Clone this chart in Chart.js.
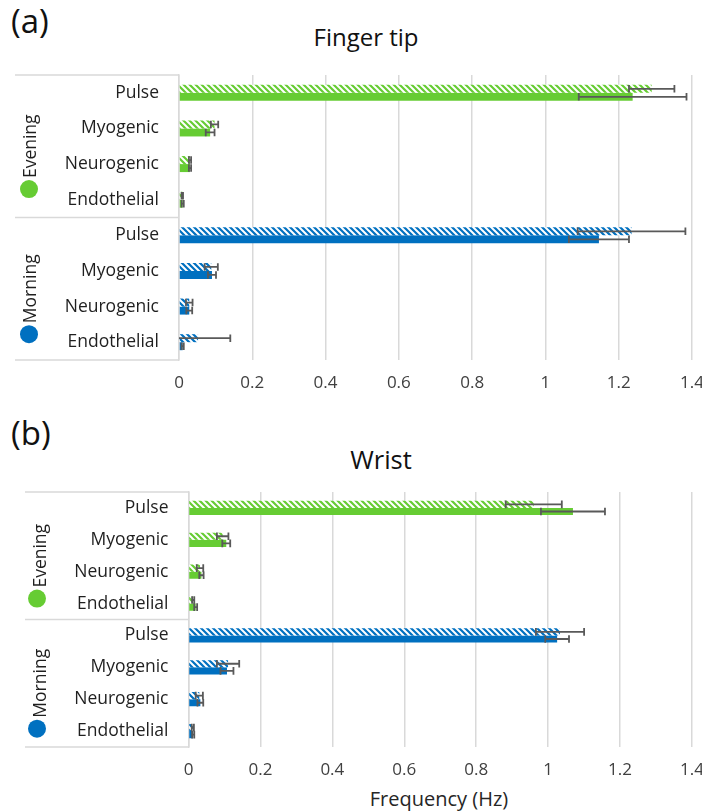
<!DOCTYPE html>
<html><head><meta charset="utf-8">
<script src="https://cdn.jsdelivr.net/npm/chart.js@4.4.1/dist/chart.umd.min.js"></script>
<style>
body{margin:0;background:#fff;width:702px;height:812px;overflow:hidden;position:relative;font-family:'Open Sans',sans-serif;}
.lbl{position:absolute;color:#111;white-space:nowrap;line-height:1;}
canvas{position:absolute;left:0;}
</style></head><body>
<div class="lbl" style="left:11px;top:4px;font-size:33px;">(a)</div>
<div class="lbl" style="left:366px;top:25px;font-size:24px;transform:translateX(-50%);">Finger tip</div>
<div class="lbl" style="left:11px;top:416px;font-size:33px;">(b)</div>
<div class="lbl" style="left:381px;top:447px;font-size:25.5px;transform:translateX(-50%);">Wrist</div>
<div class="lbl" style="left:439px;top:789px;font-size:20px;transform:translateX(-50%);color:#262626;">Frequency (Hz)</div>
<canvas id="c1" width="702" height="400" style="top:0px"></canvas>
<canvas id="c2" width="702" height="412" style="top:400px"></canvas>
<script>
// ---- data ----
const categories = ['Pulse','Myogenic','Neurogenic','Endothelial','Pulse','Myogenic','Neurogenic','Endothelial'];
const groups = ['Evening','Morning'];
const xTickLabels = ['0','0.2','0.4','0.6','0.8','1','1.2','1.4'];

const fingerHatched    = [1.29, 0.097, 0.03, 0.009, 1.235, 0.088, 0.028, 0.052];
const fingerHatchedErr = [0.062, 0.01, 0.003, 0.002, 0.147, 0.018, 0.009, 0.088];
const fingerSolid      = [1.238, 0.085, 0.03, 0.01, 1.146, 0.09, 0.028, 0.01];
const fingerSolidErr   = [0.147, 0.012, 0.003, 0.003, 0.082, 0.011, 0.008, 0.003];

const wristHatched     = [0.96, 0.095, 0.032, 0.013, 1.033, 0.11, 0.03, 0.012];
const wristHatchedErr  = [0.078, 0.016, 0.009, 0.003, 0.067, 0.031, 0.01, 0.003];
const wristSolid       = [1.069, 0.105, 0.036, 0.02, 1.025, 0.107, 0.033, 0.013];
const wristSolidErr    = [0.089, 0.011, 0.006, 0.004, 0.033, 0.018, 0.008, 0.003];

// ---- styles ----
const GREEN = '#66cc33', BLUE = '#0070c0';
const groupColors = [GREEN, BLUE];
function hatch(color){
  const c=document.createElement('canvas'); c.width=6; c.height=6;
  const g=c.getContext('2d');
  g.fillStyle=color; g.fillRect(0,0,6,6);
  g.strokeStyle='#fff'; g.lineWidth=2;
  g.beginPath();
  g.moveTo(-1,-1); g.lineTo(7,7);
  g.moveTo(-1,5); g.lineTo(1,7);
  g.moveTo(5,-1); g.lineTo(7,1);
  g.stroke();
  return document.getElementById('c1').getContext('2d').createPattern(c,'repeat');
}
const hatchColors = categories.map((c,i)=> hatch(i<4?GREEN:BLUE));
const solidColors = categories.map((c,i)=> i<4?GREEN:BLUE);

const errorBars = {
  id:'errorBars',
  afterDatasetsDraw(chart){
    const ctx=chart.ctx, xs=chart.scales.x;
    chart.data.datasets.forEach((ds,di)=>{
      const meta=chart.getDatasetMeta(di);
      meta.data.forEach((bar,i)=>{
        const v=ds.data[i], e=ds.errors[i];
        const lo=v-e, hi=v+e, y=bar.y;
        const xl=xs.getPixelForValue(Math.max(lo,0)), xh=xs.getPixelForValue(hi);
        ctx.save(); ctx.strokeStyle='#595959'; ctx.lineWidth=1.8;
        ctx.beginPath(); ctx.moveTo(xl,y); ctx.lineTo(xh,y);
        const c=3.8;
        if(lo>=0){ctx.moveTo(xl,y-c);ctx.lineTo(xl,y+c);}
        ctx.moveTo(xh,y-c);ctx.lineTo(xh,y+c);
        ctx.stroke(); ctx.restore();
      });
    });
  }
};

const groupBox = {
  id:'groupBox',
  afterDraw(chart, args, o){
    const ctx=chart.ctx, a=chart.chartArea;
    const step=(a.bottom-a.top)/categories.length;
    ctx.save();
    ctx.strokeStyle='#d9d9d9'; ctx.lineWidth=1.5;
    [a.top, a.top+4*step, a.bottom].forEach(yy=>{ctx.beginPath();ctx.moveTo(o.boxLeft,yy);ctx.lineTo(a.left,yy);ctx.stroke();});
    groups.forEach((g,gi)=>{
      const y0=a.top+gi*4*step, cy=y0+2*step;
      ctx.save(); ctx.translate(o.textX, cy); ctx.rotate(-Math.PI/2);
      ctx.font='17.5px "Open Sans"'; ctx.textAlign='center'; ctx.textBaseline='middle'; ctx.fillStyle='#1f1f1f';
      ctx.fillText(g,0,0);
      const w=ctx.measureText(g).width;
      ctx.restore();
      ctx.fillStyle=groupColors[gi];
      ctx.beginPath(); ctx.arc(o.circleX, cy+w/2+11, 9, 0, 2*Math.PI); ctx.fill();
    });
    ctx.restore();
  }
};

function makeChart(id, hv, he, sv, se, L){
  return new Chart(document.getElementById(id), {
    type:'bar',
    data:{
      labels:categories,
      datasets:[
        {data:hv, errors:he, backgroundColor:hatchColors, borderWidth:0, categoryPercentage:0.45, barPercentage:1},
        {data:sv, errors:se, backgroundColor:solidColors, borderWidth:0, categoryPercentage:0.45, barPercentage:1}
      ]
    },
    options:{
      indexAxis:'y', responsive:false, animation:false,
      layout:{padding:{left:0,right:10,top:L.top,bottom:0}},
      plugins:{legend:{display:false}, tooltip:{enabled:false}, groupBox:L},
      scales:{
        x:{min:0,max:1.4,
           ticks:{stepSize:0.2, padding:L.tickPad, color:'#404040', font:{family:'Open Sans',size:17},
                  callback:(v,i)=>xTickLabels[i]},
           grid:{color:'#d9d9d9', lineWidth:1.5, drawTicks:false},
           border:{display:false},
           afterFit(s){s.height=L.xH; s.paddingLeft=0; s.paddingRight=0;}},
        y:{ticks:{padding:12, color:'#1f1f1f', font:{family:'Open Sans',size:17.5}, autoSkip:false},
           grid:{display:false},
           border:{display:true, color:'#d9d9d9', width:1.5},
           afterFit(s){s.width=L.yW; s.paddingTop=0; s.paddingBottom=0;}}
      }
    },
    plugins:[errorBars, groupBox]
  });
}
makeChart('c1', fingerHatched, fingerHatchedErr, fingerSolid, fingerSolidErr,
  {top:75, xH:40, yW:179, tickPad:13, boxLeft:15, textX:31, circleX:29});
makeChart('c2', wristHatched, wristHatchedErr, wristSolid, wristSolidErr,
  {top:92, xH:65, yW:188.5, tickPad:13, boxLeft:25, textX:41, circleX:37});
</script>
</body></html>
